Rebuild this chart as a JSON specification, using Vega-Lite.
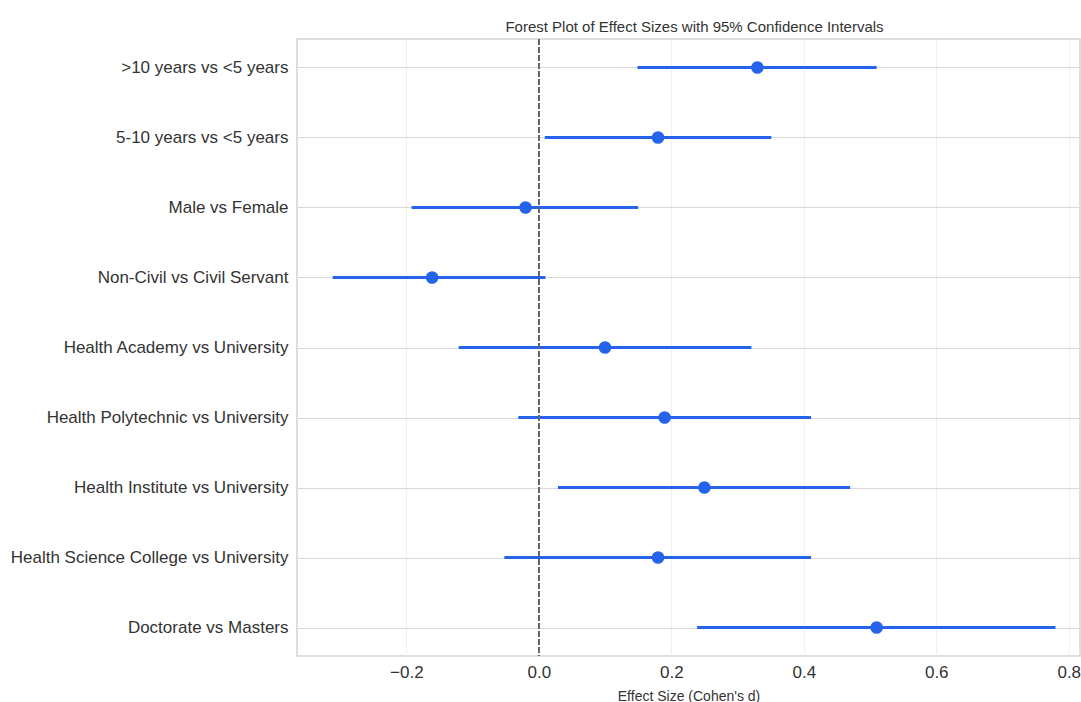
{
  "$schema": "https://vega.github.io/schema/vega-lite/v6.json",
  "autosize": {"type": "none"},
  "padding": {"left": 297, "top": 39, "right": 1, "bottom": 46},
  "width": 783,
  "height": 617,
  "background": "white",
  "title": {
    "text": "Forest Plot of Effect Sizes with 95% Confidence Intervals",
    "font": "Liberation Sans",
    "fontSize": 15,
    "fontWeight": "normal",
    "color": "#333333",
    "anchor": "middle",
    "offset": 3,
    "dx": 6
  },
  "config": {
    "view": {"stroke": "#d4d4d4", "strokeWidth": 1.5},
    "axis": {
      "labelFont": "Liberation Sans",
      "titleFont": "Liberation Sans",
      "labelColor": "#333333",
      "titleColor": "#333333",
      "domain": false,
      "ticks": false
    }
  },
  "data": {
    "values": [
      {"comparison": ">10 years vs <5 years", "d": 0.33, "lo": 0.149, "hi": 0.51},
      {"comparison": "5-10 years vs <5 years", "d": 0.18, "lo": 0.009, "hi": 0.351},
      {"comparison": "Male vs Female", "d": -0.02, "lo": -0.192, "hi": 0.15},
      {"comparison": "Non-Civil vs Civil Servant", "d": -0.161, "lo": -0.311, "hi": 0.01},
      {"comparison": "Health Academy vs University", "d": 0.1, "lo": -0.121, "hi": 0.321},
      {"comparison": "Health Polytechnic vs University", "d": 0.19, "lo": -0.031, "hi": 0.411},
      {"comparison": "Health Institute vs University", "d": 0.25, "lo": 0.029, "hi": 0.47},
      {"comparison": "Health Science College vs University", "d": 0.18, "lo": -0.052, "hi": 0.411},
      {"comparison": "Doctorate vs Masters", "d": 0.51, "lo": 0.239, "hi": 0.78}
    ]
  },
  "encoding": {
    "y": {
      "field": "comparison",
      "type": "nominal",
      "sort": null,
      "scale": {"type": "point", "padding": 0.407},
      "axis": {
        "title": null,
        "labelFontSize": 17,
        "labelPadding": 9,
        "grid": true,
        "gridColor": "#d9d9d9",
        "gridWidth": 1.2,
        "labelLimit": 400
      }
    }
  },
  "layer": [
    {
      "mark": {"type": "rule", "color": "#2563eb", "strokeWidth": 3},
      "encoding": {
        "x": {
          "field": "lo",
          "type": "quantitative",
          "scale": {"domain": [-0.365, 0.817], "nice": false, "zero": false},
          "axis": {
            "title": "Effect Size (Cohen's d)",
            "titleFontSize": 14,
            "titleFontWeight": "normal",
            "titlePadding": 9,
            "labelFontSize": 17,
            "labelPadding": 8,
            "values": [-0.2, 0, 0.2, 0.4, 0.6, 0.8],
            "labelExpr": "datum.value == 0 ? '0.0' : format(datum.value, '.1f')",
            "grid": true,
            "gridColor": "#f0f0f0",
            "gridWidth": 1
          }
        },
        "x2": {"field": "hi"}
      }
    },
    {
      "mark": {"type": "circle", "color": "#2563eb", "opacity": 1, "size": 160},
      "encoding": {
        "x": {"field": "d", "type": "quantitative"}
      }
    },
    {
      "mark": {"type": "rule", "color": "#626876", "strokeWidth": 1.4, "strokeDash": [5.5, 2.5]},
      "encoding": {
        "x": {"datum": 0, "type": "quantitative"},
        "y": {"value": 0},
        "y2": {"value": 617}
      }
    }
  ]
}
